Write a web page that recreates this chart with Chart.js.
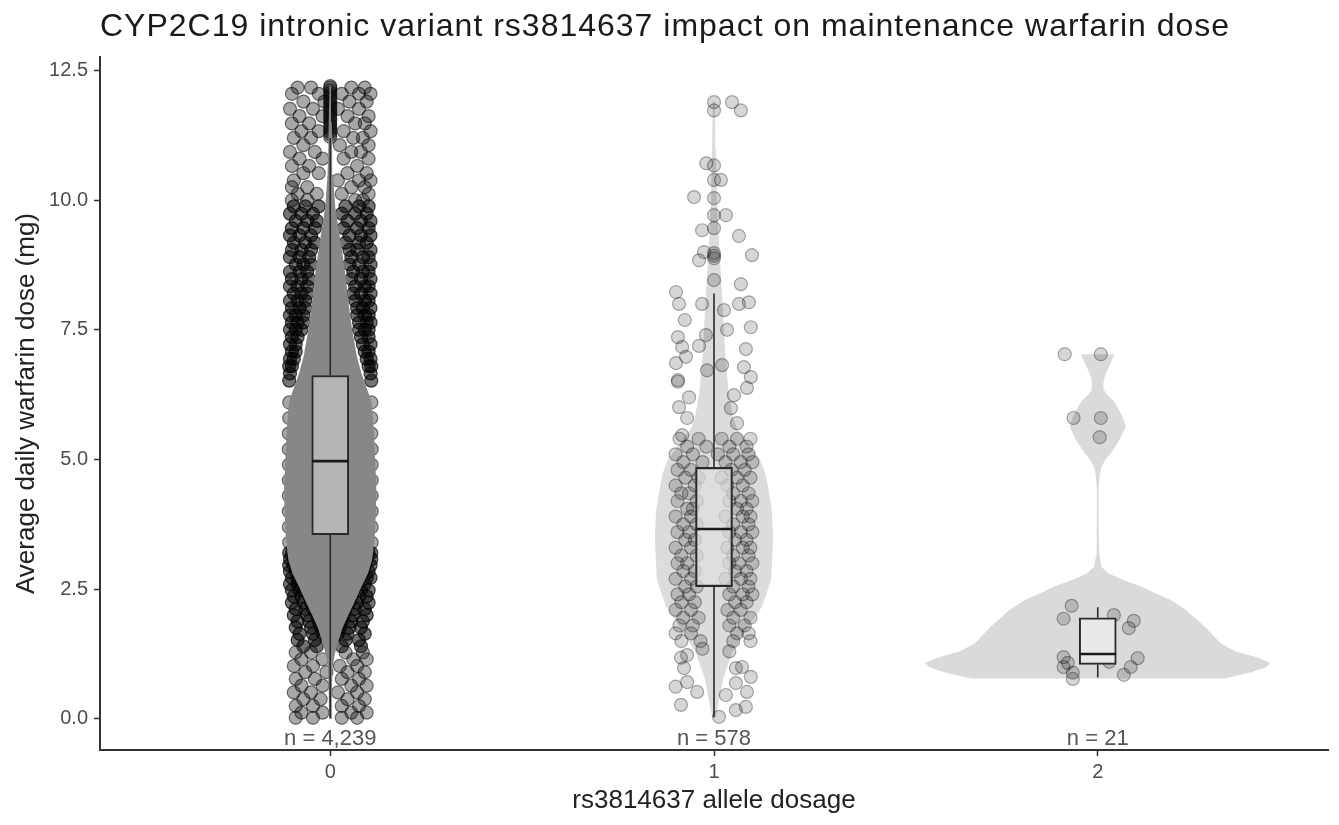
<!DOCTYPE html>
<html>
<head>
<meta charset="utf-8">
<title>CYP2C19 rs3814637 and warfarin dose</title>
<script src="https://cdn.jsdelivr.net/npm/chart.js@4.4.1/dist/chart.umd.min.js"></script>
<style>
  body { margin: 0; background: #fff; }
  canvas { display: block; }
</style>
</head>
<body>
<canvas id="dose" width="1339" height="825"></canvas>
<script>
// groups (allele dosage) and sample sizes
const dosage = [0, 1, 2];
const counts = [4239, 578, 21];

// box plot summary, mg/day
const q1 = [3.55, 2.55, 1.05];
const median = [4.97, 3.66, 1.25];
const q3 = [6.62, 4.85, 1.95];
const whiskerLow = [0.02, 0.03, 0.8];
const whiskerHigh = [11.2, 8.2, 2.15];

// violin outlines: [dose, half width in x units]
const violin0 = [[0.0, 0.003], [0.5, 0.004], [1.0, 0.006], [1.25, 0.012], [1.5, 0.021], [1.75, 0.032], [2.0, 0.047], [2.25, 0.063], [2.54, 0.081], [2.8, 0.098], [3.06, 0.109], [3.5, 0.116], [4.0, 0.119], [4.5, 0.12], [5.0, 0.117], [5.5, 0.114], [6.0, 0.109], [6.15, 0.106], [6.4, 0.094], [6.67, 0.081], [7.0, 0.069], [7.5, 0.057], [8.0, 0.048], [8.6, 0.039], [9.25, 0.026], [9.87, 0.013], [10.5, 0.007], [11.0, 0.005], [11.5, 0.004], [12.2, 0.002]];
const violin1 = [[0.03, 0.004], [0.23, 0.01], [0.75, 0.023], [1.27, 0.047], [1.77, 0.089], [2.16, 0.125], [2.68, 0.149], [3.5, 0.154], [4.0, 0.151], [4.47, 0.141], [4.75, 0.133], [5.0, 0.12], [5.3, 0.09], [5.6, 0.06], [5.8, 0.05], [6.3, 0.038], [7.0, 0.03], [7.5, 0.026], [8.2, 0.021], [9.0, 0.014], [10.0, 0.008], [11.0, 0.005], [11.9, 0.003]];
const violin2 = [[0.78, 0.33], [0.9, 0.4], [1.0, 0.44], [1.08, 0.45], [1.2, 0.41], [1.3, 0.36], [1.46, 0.32], [1.77, 0.28], [1.9, 0.26], [2.1, 0.23], [2.29, 0.19], [2.42, 0.15], [2.54, 0.117], [2.68, 0.065], [2.8, 0.03], [2.93, 0.01], [3.2, 0.004], [3.8, 0.002], [4.4, 0.002], [4.7, 0.005], [4.86, 0.01], [5.0, 0.02], [5.12, 0.034], [5.38, 0.057], [5.63, 0.073], [5.82, 0.065], [6.0, 0.052], [6.11, 0.044], [6.25, 0.025], [6.34, 0.016], [6.5, 0.015], [6.66, 0.021], [6.85, 0.033], [7.03, 0.044]];

// jittered observations, group 0, rows of [dose, [x offsets]]
// upper and lower tails, plus the edge of the wide middle
const jitter0Tails = [
  [12.17, [-0.085, -0.05, 0.055, 0.09]], [12.05, [-0.1, -0.03, 0.03, 0.075, 0.105]],
  [11.9, [-0.07, -0.015, 0.05, 0.095]], [11.76, [-0.105, -0.045, 0.02, 0.075]],
  [11.62, [-0.08, -0.02, 0.045, 0.1]], [11.48, [-0.1, -0.055, 0.065, 0.09]],
  [11.33, [-0.075, -0.03, 0.035, 0.105]], [11.2, [-0.095, -0.05, 0.06, 0.085]],
  [11.06, [-0.07, 0.025, 0.1]], [10.93, [-0.105, -0.04, 0.055, 0.08]],
  [10.8, [-0.08, -0.02, 0.035, 0.1]], [10.66, [-0.1, -0.055, 0.07]],
  [10.52, [-0.07, -0.03, 0.045, 0.095]], [10.38, [-0.095, 0.02, 0.075, 0.105]],
  [10.25, [-0.06, -0.1, 0.055, 0.09]], [10.12, [-0.085, -0.035, 0.03, 0.1]],
  [10.0, [-0.1, -0.06, 0.065, 0.085]],
  [6.1, [-0.107, 0.107]], [5.8, [-0.107, 0.107]], [5.5, [-0.108, 0.107]], [5.2, [-0.108, 0.108]],
  [4.9, [-0.108, 0.108]], [4.6, [-0.108, 0.108]], [4.3, [-0.108, 0.108]], [4.0, [-0.108, 0.108]],
  [3.7, [-0.108, 0.108]], [3.4, [-0.107, 0.108]],
  [1.28, [-0.09, -0.05, 0.04, 0.085]], [1.15, [-0.075, -0.02, 0.06, 0.095]],
  [1.02, [-0.095, -0.045, 0.025, 0.07]], [0.9, [-0.065, -0.01, 0.045, 0.09]],
  [0.77, [-0.09, -0.04, 0.03, 0.075]], [0.64, [-0.075, -0.02, 0.055, 0.095]],
  [0.51, [-0.095, -0.05, 0.02, 0.07]], [0.38, [-0.07, -0.025, 0.045, 0.09]],
  [0.25, [-0.09, -0.045, 0.03, 0.075]], [0.12, [-0.075, -0.02, 0.055, 0.095]],
  [0.02, [-0.09, -0.045, 0.03, 0.07]]
];
// crowded bands along the violin
const jitter0Core = [
  [9.88, [-0.095, -0.065, -0.03, 0.04, 0.075, 0.1]], [9.74, [-0.105, -0.075, -0.045, 0.03, 0.065, 0.095]],
  [9.6, [-0.09, -0.06, -0.035, 0.045, 0.08, 0.105]], [9.46, [-0.1, -0.07, -0.04, 0.035, 0.07, 0.1]],
  [9.32, [-0.105, -0.08, -0.05, 0.05, 0.08, 0.105]], [9.18, [-0.095, -0.065, -0.04, 0.04, 0.075, 0.095]],
  [9.04, [-0.1, -0.075, -0.05, 0.05, 0.07, 0.105]], [8.9, [-0.105, -0.08, -0.055, 0.055, 0.085, 0.1]],
  [8.76, [-0.09, -0.07, -0.05, 0.05, 0.075, 0.105]], [8.62, [-0.105, -0.08, -0.06, 0.06, 0.085, 0.1]],
  [8.48, [-0.1, -0.075, -0.055, 0.055, 0.08, 0.105]], [8.34, [-0.105, -0.085, -0.06, 0.065, 0.09, 0.1]],
  [8.2, [-0.095, -0.075, -0.06, 0.06, 0.08, 0.105]], [8.06, [-0.105, -0.085, -0.065, 0.065, 0.09, 0.1]],
  [7.92, [-0.1, -0.08, -0.065, 0.07, 0.085, 0.105]], [7.78, [-0.105, -0.09, -0.07, 0.07, 0.09, 0.1]],
  [7.64, [-0.1, -0.085, -0.07, 0.075, 0.095, 0.105]], [7.5, [-0.105, -0.09, -0.075, 0.075, 0.09, 0.1]],
  [7.36, [-0.1, -0.085, 0.08, 0.1]], [7.22, [-0.105, -0.09, 0.085, 0.105]],
  [7.08, [-0.1, -0.09, 0.09, 0.1]], [6.94, [-0.105, -0.095, 0.095, 0.105]],
  [6.8, [-0.107, -0.1, 0.1, 0.107]], [6.66, [-0.105, 0.105]], [6.52, [-0.107, 0.107]],
  [3.2, [-0.107, -0.1, 0.1, 0.107]], [3.08, [-0.105, -0.095, 0.095, 0.107]],
  [2.96, [-0.107, -0.095, 0.09, 0.105]], [2.84, [-0.105, -0.09, -0.08, 0.085, 0.1]],
  [2.72, [-0.1, -0.085, 0.075, 0.095, 0.105]], [2.6, [-0.105, -0.085, -0.07, 0.07, 0.09]],
  [2.48, [-0.1, -0.08, -0.065, 0.06, 0.08, 0.1]], [2.36, [-0.095, -0.075, -0.055, 0.055, 0.075, 0.095]],
  [2.24, [-0.1, -0.07, -0.05, 0.05, 0.07, 0.1]], [2.12, [-0.09, -0.065, -0.045, 0.04, 0.065, 0.09]],
  [2.0, [-0.095, -0.06, -0.035, 0.035, 0.06, 0.095]], [1.88, [-0.085, -0.055, -0.03, 0.03, 0.055, 0.085]],
  [1.76, [-0.09, -0.05, -0.025, 0.025, 0.05, 0.08]], [1.64, [-0.08, -0.045, -0.02, 0.02, 0.045, 0.09]],
  [1.52, [-0.085, -0.04, 0.04, 0.075]], [1.4, [-0.07, -0.035, 0.03, 0.08]]
];
const outliers0 = [11.22, 11.27, 11.32, 11.37, 11.42, 11.47, 11.52, 11.57, 11.62, 11.67, 11.72, 11.77, 11.82, 11.87, 11.92, 11.97, 12.02, 12.07, 12.12, 12.17, 12.2];

// group 1: rows for the crowded middle, single points above and below
const jitter1Rows = [
  [5.4, [-0.09, -0.04, 0.02, 0.06, 0.095]], [5.25, [-0.07, -0.02, 0.04, 0.085]],
  [5.1, [-0.1, -0.055, 0.01, 0.05, 0.09]], [4.95, [-0.08, -0.03, 0.03, 0.07, 0.1]],
  [4.8, [-0.095, -0.06, 0.045, 0.08]], [4.65, [-0.075, -0.04, 0.02, 0.06, 0.095]],
  [4.5, [-0.1, -0.05, 0.035, 0.075]], [4.35, [-0.085, -0.065, 0.05, 0.09]],
  [4.2, [-0.095, -0.045, 0.04, 0.07, 0.1]], [4.05, [-0.07, -0.055, 0.06, 0.085]],
  [3.9, [-0.1, -0.06, 0.03, 0.075, 0.095]], [3.75, [-0.08, -0.045, 0.05, 0.09]],
  [3.6, [-0.095, -0.065, 0.04, 0.07, 0.1]], [3.45, [-0.075, -0.05, 0.055, 0.085]],
  [3.3, [-0.1, -0.06, 0.035, 0.075, 0.095]], [3.15, [-0.085, -0.045, 0.05, 0.09]],
  [3.0, [-0.095, -0.07, 0.04, 0.065, 0.1]], [2.85, [-0.08, -0.05, 0.055, 0.085]],
  [2.7, [-0.1, -0.06, 0.03, 0.07, 0.095]], [2.55, [-0.075, -0.045, 0.05, 0.09]],
  [2.4, [-0.095, -0.065, 0.04, 0.075, 0.1]], [2.25, [-0.085, -0.05, 0.055, 0.085]],
  [2.1, [-0.1, -0.06, 0.035, 0.07]], [1.95, [-0.08, -0.04, 0.05, 0.095]],
  [1.8, [-0.09, -0.055, 0.04, 0.08]], [1.65, [-0.1, -0.06, 0.06, 0.09]],
  [1.5, [-0.085, -0.035, 0.05, 0.095]]
];
const jitter1 = [
  [0.047, 11.89], [0.07, 11.73], [-0.02, 10.71], [0.018, 10.39], [-0.052, 10.06], [0.031, 9.71],
  [-0.031, 9.42], [0.065, 9.31], [-0.026, 9.0], [-0.039, 8.84], [0.099, 8.94], [0.07, 8.38],
  [-0.099, 8.23], [-0.091, 8.0], [-0.031, 8.0], [0.065, 8.0], [0.091, 8.03], [0.026, 7.88],
  [-0.076, 7.69], [0.096, 7.55], [0.034, 7.5], [-0.094, 7.36], [-0.021, 7.4], [-0.039, 7.19],
  [-0.083, 7.17], [0.083, 7.13], [-0.073, 6.98], [-0.099, 6.86], [0.021, 6.82], [0.078, 6.78],
  [-0.018, 6.72], [0.096, 6.59], [-0.094, 6.53], [-0.094, 6.5], [0.086, 6.38], [0.052, 6.24],
  [-0.065, 6.2], [-0.091, 6.01], [0.044, 5.99], [-0.07, 5.8], [0.06, 5.7], [-0.083, 5.47],
  [-0.086, 0.27], [-0.044, 0.52], [-0.07, 0.71], [-0.078, 0.98], [-0.086, 1.18], [-0.07, 1.23],
  [0.057, 0.17], [0.083, 0.23], [0.031, 0.46], [0.086, 0.52], [0.057, 0.69], [0.096, 0.81],
  [0.073, 1.0], [0.057, 0.98], [0.013, 0.04], [-0.03, 1.35], [0.04, 1.3], [-0.1, 0.62]
];
const outliers1 = [8.46, 8.88, 8.93, 8.98, 9.46, 9.71, 10.04, 10.39, 10.67, 11.73, 11.89];

// group 2: all 21 observations
const jitter2 = [
  [-0.086, 7.03], [0.008, 7.03], [-0.063, 5.8], [0.008, 5.8], [0.005, 5.43],
  [-0.068, 2.18], [-0.089, 1.93], [0.042, 2.0], [0.094, 1.89], [0.081, 1.75], [-0.089, 1.19],
  [-0.078, 1.08], [-0.089, 1.0], [-0.065, 0.89], [-0.065, 0.77], [0.104, 1.17], [0.086, 1.0],
  [0.068, 0.85], [-0.02, 1.5], [0.015, 1.23], [0.03, 1.1]
];

const titleText = 'CYP2C19 intronic variant rs3814637 impact on maintenance warfarin dose';
const fontFamily = "'Liberation Sans', Arial, sans-serif";

// violin polygon: right edge upward, left edge back down
function outline(g, shape) {
  const right = shape.map(p => ({x: g + p[1], y: p[0]}));
  const left = shape.slice().reverse().map(p => ({x: g - p[1], y: p[0]}));
  return right.concat(left, [right[0]]);
}

function fromRows(g, rows) {
  const out = [];
  rows.forEach(row => row[1].forEach(dx => out.push({x: g + dx, y: row[0]})));
  return out;
}

const tailPoints0 = fromRows(dosage[0], jitter0Tails)
  .concat(outliers0.map(v => ({x: dosage[0], y: v})));
const corePoints0 = fromRows(dosage[0], jitter0Core);
const otherPoints = fromRows(dosage[1], jitter1Rows)
  .concat(jitter1.map(p => ({x: dosage[1] + p[0], y: p[1]})))
  .concat(outliers1.map(v => ({x: dosage[1], y: v})))
  .concat(jitter2.map(p => ({x: dosage[2] + p[0], y: p[1]})));

const whiskers = [];
const medians = [];
dosage.forEach((g, i) => {
  whiskers.push({x: g, y: whiskerLow[i]}, {x: g, y: q1[i]}, {x: g, y: NaN},
                {x: g, y: q3[i]}, {x: g, y: whiskerHigh[i]}, {x: g, y: NaN});
  medians.push({x: g - 0.048, y: median[i]}, {x: g + 0.048, y: median[i]}, {x: g, y: NaN});
});

// title and n = labels
const annotate = {
  id: 'annotate',
  afterDraw(chart) {
    const {ctx, chartArea, scales} = chart;
    ctx.save();
    ctx.textBaseline = 'middle';
    ctx.fillStyle = '#1a1a1a';
    ctx.font = '32px ' + fontFamily;
    ctx.letterSpacing = '1px';
    ctx.textAlign = 'left';
    ctx.fillText(titleText, chartArea.left, 27);
    ctx.letterSpacing = '0px';
    ctx.fillStyle = '#555';
    ctx.font = '22px ' + fontFamily;
    ctx.textAlign = 'center';
    dosage.forEach((g, i) => {
      ctx.fillText('n = ' + counts[i].toLocaleString('en-US'),
        scales.x.getPixelForValue(g), scales.y.getPixelForValue(-0.39));
    });
    ctx.restore();
  }
};

const violinFill = ['#878787', '#dcdcdc', '#dadada'];
const violins = [violin0, violin1, violin2].map((shape, i) => ({
  type: 'line',
  data: outline(dosage[i], shape),
  fill: 'shape',
  backgroundColor: violinFill[i],
  borderWidth: 0,
  pointRadius: 0,
  order: i === 0 ? 3 : 5
}));

function pointSet(data, fillAlpha, edgeAlpha) {
  return {
    type: 'scatter',
    data: data,
    pointRadius: 6.5,
    backgroundColor: 'rgba(0,0,0,' + fillAlpha + ')',
    borderColor: 'rgba(0,0,0,' + edgeAlpha + ')',
    borderWidth: 1.2,
    order: 4
  };
}

Chart.defaults.font.family = fontFamily;

new Chart(document.getElementById('dose'), {
  type: 'line',
  data: {
    datasets: violins.concat([
      pointSet(tailPoints0, 0.34, 0.52),
      pointSet(corePoints0, 0.55, 0.7),
      pointSet(otherPoints, 0.16, 0.32),
      {
        type: 'bar',
        data: dosage.map((g, i) => ({x: g, y: [q1[i], q3[i]]})),
        backgroundColor: ['#b5b5b5', 'rgba(222,222,222,0.7)', '#e8e8e8'],
        borderColor: '#2a2a2a',
        borderWidth: 2,
        borderSkipped: false,
        barThickness: 37,
        order: 2
      },
      {
        type: 'line',
        data: whiskers,
        borderColor: '#2a2a2a',
        borderWidth: 1.6,
        pointRadius: 0,
        spanGaps: false,
        order: 1
      },
      {
        type: 'line',
        data: medians,
        borderColor: '#1a1a1a',
        borderWidth: 2.6,
        pointRadius: 0,
        spanGaps: false,
        order: 0
      }
    ])
  },
  options: {
    responsive: false,
    animation: false,
    events: [],
    layout: { padding: { top: 57, right: 11, left: 0, bottom: 0 } },
    plugins: {
      legend: { display: false },
      tooltip: { enabled: false }
    },
    scales: {
      x: {
        type: 'linear',
        min: -0.6,
        max: 2.6,
        offset: false,
        grid: { drawOnChartArea: false, offset: false, tickLength: 6, tickColor: '#333', tickWidth: 1.5 },
        border: { color: '#333', width: 2 },
        ticks: {
          stepSize: 1,
          includeBounds: false,
          padding: 4,
          color: '#4d4d4d',
          font: { size: 20 },
          callback: v => String(v)
        },
        title: {
          display: true,
          text: 'rs3814637 allele dosage',
          color: '#222',
          font: { size: 26 },
          padding: { top: 0, bottom: 9 }
        },
        afterFit: scale => { scale.height = 75; }
      },
      y: {
        type: 'linear',
        min: -0.6,
        max: 12.76,
        beginAtZero: false,
        grid: { drawOnChartArea: false, tickLength: 6, tickColor: '#333', tickWidth: 1.5 },
        border: { color: '#333', width: 2 },
        ticks: {
          stepSize: 2.5,
          includeBounds: false,
          padding: 6,
          color: '#4d4d4d',
          font: { size: 20 },
          callback: v => v.toFixed(1)
        },
        title: {
          display: true,
          text: 'Average daily warfarin dose (mg)',
          color: '#222',
          font: { size: 26 },
          padding: { top: 11, bottom: 0 }
        },
        afterFit: scale => { scale.width = 100; }
      }
    }
  },
  plugins: [annotate]
});
</script>
</body>
</html>
